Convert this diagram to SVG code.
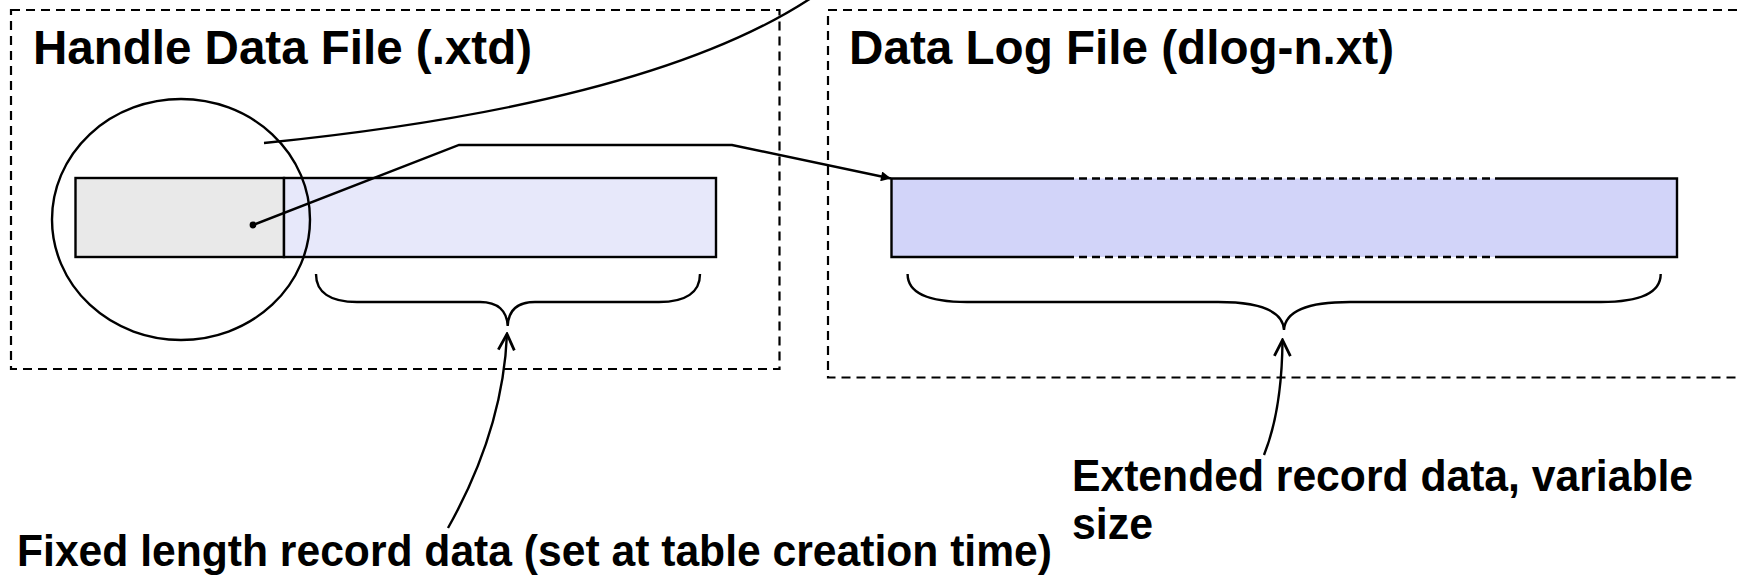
<svg xmlns="http://www.w3.org/2000/svg" width="1737" height="579" viewBox="0 0 1737 579">
  <style>
    .frame { fill: none; stroke: #000; stroke-width: 2.2; stroke-dasharray: 9 6; }
    .title { font-family: "Liberation Sans", Arial, sans-serif; font-weight: bold; font-size: 48px; fill: #000; }
    .label { font-family: "Liberation Sans", Arial, sans-serif; font-weight: bold; font-size: 44px; fill: #000; }
    .line { fill: none; stroke: #000; stroke-width: 2.4; }
  </style>
  <defs>
    <marker id="solidArrow" viewBox="0 0 10 10" refX="10" refY="5" markerWidth="12" markerHeight="10" markerUnits="userSpaceOnUse" orient="auto">
      <path d="M0,0 L10,5 L0,10 z" fill="#000"/>
    </marker>
    <marker id="openArrow" viewBox="0 0 20 20" refX="18" refY="10" markerWidth="20" markerHeight="20" markerUnits="userSpaceOnUse" orient="auto">
      <path d="M2,2 L18,10 L2,18" fill="none" stroke="#000" stroke-width="2.8"/>
    </marker>
  </defs>

  <g id="handle-file">
    <rect class="frame" x="11" y="10" width="768.5" height="359"/>
    <text class="title" x="33" y="64" textLength="499" lengthAdjust="spacingAndGlyphs">Handle Data File (.xtd)</text>
  </g>

  <g id="datalog-file">
    <rect class="frame" x="828" y="10" width="930" height="367.5"/>
    <text class="title" x="849" y="64" textLength="545" lengthAdjust="spacingAndGlyphs">Data Log File (dlog-n.xt)</text>
  </g>

  <g id="handle-record">
    <rect x="75.5" y="178" width="208.5" height="79" fill="#e9e9e9" stroke="#000" stroke-width="2.4"/>
    <rect x="284" y="178" width="432" height="79" fill="#e7e8fa" stroke="#000" stroke-width="2.4"/>
  </g>

  <g id="handle-zoom">
    <ellipse cx="181" cy="219.5" rx="129" ry="120.5" fill="none" stroke="#000" stroke-width="2.4"/>
  </g>

  <g id="extended-record">
    <rect x="891.5" y="178.5" width="785.5" height="78.5" fill="#d2d4f9"/>
    <path class="line" d="M891.5,178.5 L1066,178.5 M1499,178.5 L1677,178.5 M891.5,257 L1066,257 M1499,257 L1677,257 M891.5,177.3 L891.5,258.2 M1677,177.3 L1677,258.2"/>
    <path class="line" stroke-dasharray="8 5" d="M1066,178.5 L1499,178.5 M1066,257 L1499,257"/>
  </g>

  <g id="fixed-brace">
    <path class="line" d="M316,274 C316,292 330,302 357,302 L480,302 C498,302 507,311 507.7,326 C508.4,311 517,302 535,302 L659,302 C686,302 700,292 700,274"/>
  </g>

  <g id="extended-brace">
    <path class="line" d="M907.6,274 C907.6,292 925,302 967,302 L1218,302 C1262,302 1283,312 1284,330 C1285,312 1306,302 1350,302 L1601,302 C1643,302 1660.7,292 1660.7,274"/>
  </g>

  <g id="fixed-label">
    <text class="label" x="17" y="566" textLength="1035" lengthAdjust="spacingAndGlyphs">Fixed length record data (set at table creation time)</text>
  </g>

  <g id="extended-label">
    <text class="label" x="1072" y="491" textLength="621" lengthAdjust="spacingAndGlyphs">Extended record data, variable</text>
    <text class="label" x="1072" y="539" textLength="81" lengthAdjust="spacingAndGlyphs">size</text>
  </g>

  <g id="connectors">
    <path class="line" d="M264,143 Q661,103 820,-8"/>
    <circle cx="253" cy="225" r="3.4" fill="#000"/>
    <path class="line" marker-end="url(#solidArrow)" d="M253,225 L459,145 L732,145 L891,178.5"/>
    <path class="line" marker-end="url(#openArrow)" d="M448,528 Q503,430 507,334"/>
    <path class="line" marker-end="url(#openArrow)" d="M1264,455 Q1282,410 1282.5,340"/>
  </g>
</svg>
